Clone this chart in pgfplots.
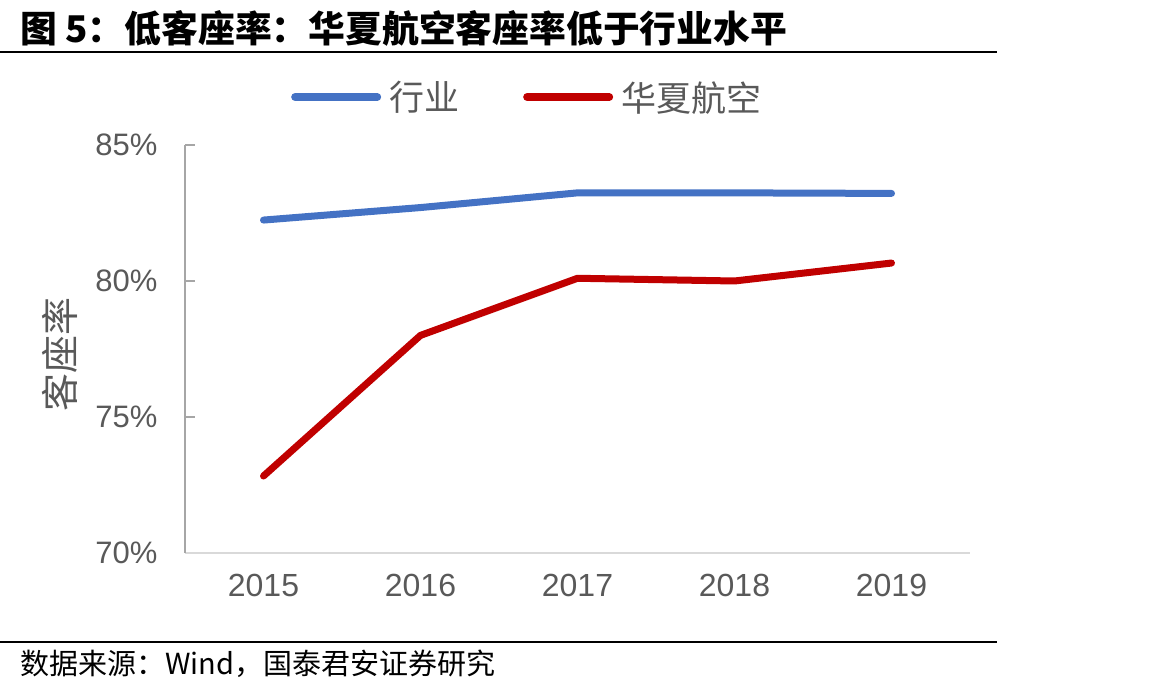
\documentclass[border=0pt]{standalone}
\usepackage{fontspec}
\setmainfont{Liberation Sans}
\newfontfamily\cjk{Noto Sans CJK SC}
\usepackage{pgfplots}
\pgfplotsset{compat=1.18}
\definecolor{ind}{HTML}{4472C4}
\definecolor{hx}{HTML}{C00000}
\definecolor{tk}{HTML}{595959}
\definecolor{yax}{HTML}{A6A6A6}
\definecolor{xax}{HTML}{D9D9D9}
\begin{document}
\begin{tikzpicture}[x=1pt,y=1pt]
\path[use as bounding box] (0,0) rectangle (1173,693);
\draw[line width=2pt] (0,641) -- (997,641);
\draw[line width=2pt] (0,51) -- (997,51);
\node[anchor=base west, inner sep=0, font=\fontsize{36.8}{40}\selectfont\cjk\bfseries] at (20,650) {图 5：低客座率：华夏航空客座率低于行业水平};
\node[anchor=base west, inner sep=0, font=\fontsize{29}{32}\selectfont\cjk] at (20,18) {数据来源：Wind，国泰君安证券研究};
\node[rotate=90, inner sep=0, text=tk, font=\fontsize{38}{40}\selectfont\cjk] at (60,338) {客座率};
\begin{axis}[
  at={(185pt,140pt)}, anchor=south west,
  scale only axis, width=785pt, height=408pt,
  xmin=-0.5, xmax=4.5, ymin=70, ymax=85,
  axis x line*=bottom, axis y line*=left,
  x axis line style={draw=xax, line width=2.5pt, -},
  y axis line style={draw=yax, line width=2.5pt, -},
  xtick={0,1,2,3,4}, xticklabels={2015,2016,2017,2018,2019},
  ytick={70,75,80,85}, yticklabels={70\%,75\%,80\%,85\%},
  xtick style={draw=none},
  ytick style={draw=yax, line width=2.5pt},
  tick align=inside, major tick length=10pt,
  x tick label style={font=\fontsize{32}{36}\selectfont, text=tk, yshift=-18pt},
  y tick label style={font=\fontsize{31}{34}\selectfont, text=tk, xshift=-24pt},
  legend style={at={(0.135,1.1176)}, anchor=west, draw=none, fill=none, inner sep=0pt,
    font=\fontsize{35}{40}\selectfont\cjk, text=tk, legend columns=2,
    /tikz/every even column/.append style={column sep=62pt},
    /tikz/every odd column/.append style={column sep=6pt}},
  legend image code/.code={\draw[#1, line width=8pt, line cap=round] (0pt,0pt) -- (82pt,0pt);},
  clip=false,
]
\addplot[ind, line width=7pt, line cap=round, line join=round] coordinates {(0,82.24) (1,82.7) (2,83.24) (3,83.24) (4,83.22)};
\addlegendentry{行业}
\addplot[hx, line width=7pt, line cap=round, line join=round] coordinates {(0,72.83) (1,78.0) (2,80.1) (3,80.0) (4,80.66)};
\addlegendentry{华夏航空}
\end{axis}
\end{tikzpicture}
\end{document}
